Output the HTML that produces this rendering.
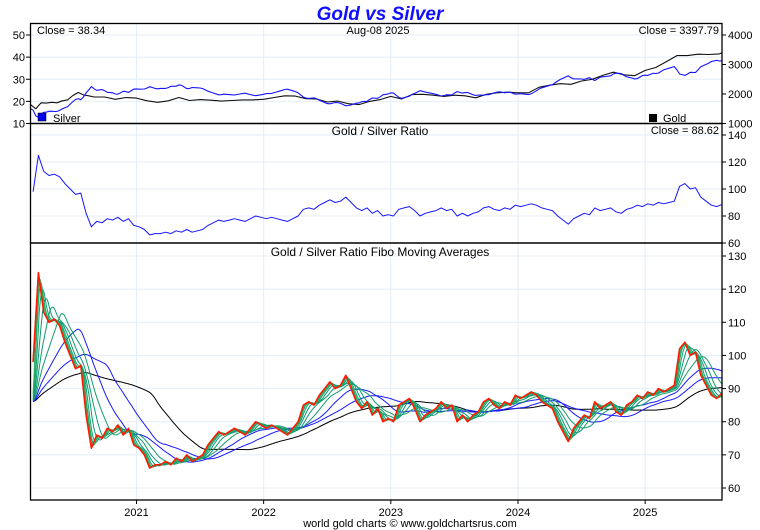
<!DOCTYPE html>
<html><head><meta charset="utf-8">
<style>
html,body{margin:0;padding:0;background:#fff;}
svg{display:block;font-family:"Liberation Sans",sans-serif;}
</style></head>
<body>
<svg id="chart" width="760" height="530" viewBox="0 0 760 530" xmlns="http://www.w3.org/2000/svg">
<text x="380" y="20" text-anchor="middle" font-size="19" font-weight="bold" font-style="italic" fill="#1010ff">Gold vs Silver</text>
<g id="grid"></g>
<g id="marks"></g>
<g id="frames"></g>
<g id="axes"></g>
<text x="37" y="34" font-size="11">Close = 38.34</text>
<text x="378" y="34" font-size="11" text-anchor="middle">Aug-08  2025</text>
<text x="719" y="34" font-size="11" text-anchor="end">Close = 3397.79</text>
<rect x="38" y="113" width="8" height="8" fill="#0000ee" stroke="#000" stroke-width="0.5"/>
<text x="53" y="122" font-size="11">Silver</text>
<rect x="649" y="114" width="8" height="8" fill="#000"/>
<text x="663" y="122" font-size="11">Gold</text>
<text x="380" y="135" font-size="12" text-anchor="middle">Gold / Silver Ratio</text>
<text x="719" y="134" font-size="11" text-anchor="end">Close = 88.62</text>
<text x="380" y="256" font-size="12" text-anchor="middle">Gold / Silver Ratio Fibo Moving Averages</text>
<text x="410" y="527" font-size="11" text-anchor="middle">world gold charts © www.goldchartsrus.com</text>
</svg>
<script>
// Gold/Silver ratio, half-month samples ending Aug-08 2025
const ratioValues = [
 98,125,113,110,111,109,104,100,96,97,82,72,
 76,75,78,77,79,76,78,73,72,70,66,67,
 67,68,67,69,68,70,68,69,70,73,75,77,
 76,77,78,77,76,78,80,79,78,79,78,77,
 76,78,80,85,86,85,88,90,92,90,91,94,
 90,86,84,86,82,84,80,81,80,85,86,87,
 84,80,82,83,84,86,84,85,80,82,80,82,
 83,86,87,85,84,86,85,88,87,88,89,88,
 86,85,84,80,77,74,78,80,82,81,86,84,
 85,86,83,82,85,86,88,87,89,88,90,89,
 90,91,102,104,100,101,94,91,88,87,88.62];
// average ratio level before the chart window (MA warm-up)
const priorRatio = [86];
// Gold price, months since Mar 1 2020
const goldMonths = [0,0.5,1,1.5,2,2.5,3,3.5,4,4.5,5,5.5,6,7,8,9,10,11,12,13,14,15,16,17,18,19,20,21,22,23,24,25,26,27,28,29,30,31,32,33,34,35,36,37,38,39,40,41,42,43,44,45,46,47,48,49,50,51,52,53,54,55,56,57,58,59,60,61,62,63,64,65,65.25];
const goldValues = [1640,1500,1700,1690,1720,1700,1770,1800,1950,2050,1970,1940,1900,1900,1820,1880,1860,1770,1720,1770,1880,1780,1810,1790,1760,1780,1800,1800,1820,1880,1940,1930,1840,1830,1730,1760,1670,1640,1750,1810,1920,1830,1980,1990,1960,1920,1960,1940,1870,1990,2040,2060,2040,2040,2230,2300,2350,2330,2440,2500,2630,2740,2650,2620,2800,2900,3100,3300,3300,3350,3340,3360,3398];
const maPeriods = [5,8,13,21,34,55,89,144,233];
const leftTicks1 = [10,20,30,40,50];
const rightTicks1 = [1000,2000,3000,4000];
const ticks2 = [60,80,100,120,140];
const ticks3 = [60,70,80,90,100,110,120,130];
const yearTicks = [2021,2022,2023,2024,2025];

const NS='http://www.w3.org/2000/svg';
const L=30.5,R=722,P1=[23.5,123.5],P2=[123.5,243],P3=[243,500];
const lastMonth=65.25;
const ratioMonths=ratioValues.map((v,i)=>lastMonth-(ratioValues.length-1-i)*0.5);
const x0=2020+2/12, x1=2020+(2+lastMonth)/12;
const xs=y=>L+(y-x0)/(x1-x0)*(R-L);
const mToYear=m=>2020+(2+m)/12;
const lin=(d0,d1,r0,r1)=>v=>r0+(v-d0)/(d1-d0)*(r1-r0);
const ySil=lin(10,50,123.5,35), yGold=lin(1000,4000,123.5,35);
const yR2=lin(60,140,243,135), yR3=lin(60,130,488,256);
function mk(tag,attrs,parent){const e=document.createElementNS(NS,tag);for(const k in attrs)e.setAttribute(k,attrs[k]);parent.appendChild(e);return e;}
const grid=document.getElementById('grid'),marks=document.getElementById('marks'),frames=document.getElementById('frames'),axes=document.getElementById('axes');
function interp(ms,vs,m){if(m<=ms[0])return vs[0];for(let i=1;i<ms.length;i++){if(m<=ms[i]){const t=(m-ms[i-1])/(ms[i]-ms[i-1]);return vs[i-1]+t*(vs[i]-vs[i-1]);}}return vs[vs.length-1];}
const gc='#e4eef7';
yearTicks.forEach(y=>{const g=mk('line',{x1:xs(y),x2:xs(y),y1:23.5,y2:500,stroke:gc},grid);});
leftTicks1.forEach(v=>{const g=mk('line',{x1:L,x2:R,y1:ySil(v),y2:ySil(v),stroke:gc},grid);});
ticks2.forEach(v=>{const g=mk('line',{x1:L,x2:R,y1:yR2(v),y2:yR2(v),stroke:gc},grid);});
ticks3.forEach(v=>{const g=mk('line',{x1:L,x2:R,y1:yR3(v),y2:yR3(v),stroke:gc},grid);});
function path(pts,attrs,name){const d=pts.map((p,i)=>(i?'L':'M')+p[0].toFixed(1)+' '+p[1].toFixed(1)).join('');const e=mk('path',Object.assign({d:d,fill:'none','stroke-linejoin':'round'},attrs),marks);return e;}
const clip1=mk('clipPath',{id:'c1'},mk('defs',{},document.getElementById('chart')));mk('rect',{x:L,y:P1[0],width:R-L,height:P1[1]-P1[0]},clip1);
const allM=[...new Set([...goldMonths,...ratioMonths])].sort((a,b)=>a-b);
path(goldMonths.map((m,i)=>[xs(mToYear(m)),yGold(goldValues[i])]),{stroke:'#111','stroke-width':1.1,'clip-path':'url(#c1)'},'gold-price-line');
path(allM.map(m=>[xs(mToYear(m)),ySil(interp(goldMonths,goldValues,m)/interp(ratioMonths,ratioValues,m))]),{stroke:'#1515ff','stroke-width':1.1,'clip-path':'url(#c1)'},'silver-price-line');
path(ratioMonths.map((m,i)=>[xs(mToYear(m)),yR2(ratioValues[i])]),{stroke:'#1515ff','stroke-width':1},'ratio-line');
const step=1/21, first=ratioMonths[0];
const fine=[];for(let m=first;m<=lastMonth+1e-9;m+=step)fine.push(interp(ratioMonths,ratioValues,m));
const WARM=233;
const ext=new Array(WARM).fill(priorRatio[0]).concat(fine);
function ma(n){const out=[];let s=0;for(let i=0;i<ext.length;i++){s+=ext[i];if(i>=n)s-=ext[i-n];if(i>=WARM)out.push(s/Math.min(i+1,n));}return out;}
const greens=['#20b060','#19a866','#12a06c','#0c9872','#109a70','#169c6a'];
maPeriods.slice().reverse().forEach(n=>{const a=ma(n);let col;const gi=maPeriods.indexOf(n);
 if(n>=233)col='#000';else if(n>=89)col='#1a1aff';else col=greens[gi];
 const pts=[];for(let i=0;i<a.length;i+=2)pts.push([xs(mToYear(first+i*step)),yR3(a[i])]);pts.push([xs(mToYear(lastMonth)),yR3(a[a.length-1])]);
 path(pts,{stroke:col,'stroke-width':1},'ma-'+n);});
path(ratioMonths.map((m,i)=>[xs(mToYear(m)),yR3(ratioValues[i])]),{stroke:'#ff1a00','stroke-width':1.6},'ratio-price-line');
[P1,P2,P3].forEach((p,i)=>{const f=mk('rect',{x:L,y:p[0],width:R-L,height:p[1]-p[0],fill:'none',stroke:'#000','stroke-width':1.3},frames);});
function lbl(x,y,t,anchor,name){const e=mk('text',{x:x,y:y,'font-size':11,'text-anchor':anchor},axes);e.textContent=t;}
leftTicks1.forEach(v=>{mk('line',{x1:26,x2:L,y1:ySil(v),y2:ySil(v),stroke:'#000'},axes);lbl(25,ySil(v)+4,v,'end','silver-axis-tick');});
rightTicks1.forEach(v=>{mk('line',{x1:R,x2:R+4,y1:yGold(v),y2:yGold(v),stroke:'#000'},axes);lbl(728,yGold(v)+4,v,'start','gold-axis-tick');});
ticks2.forEach(v=>{mk('line',{x1:R,x2:R+4,y1:yR2(v),y2:yR2(v),stroke:'#000'},axes);lbl(728,yR2(v)+4,v,'start','ratio-axis-tick');});
ticks3.forEach(v=>{mk('line',{x1:R,x2:R+4,y1:yR3(v),y2:yR3(v),stroke:'#000'},axes);lbl(728,yR3(v)+4,v,'start','fibo-axis-tick');});
yearTicks.forEach(y=>{mk('line',{x1:xs(y),x2:xs(y),y1:500,y2:504,stroke:'#000'},axes);lbl(xs(y),516,y,'middle','year-axis-tick');});
</script>
</body></html>
